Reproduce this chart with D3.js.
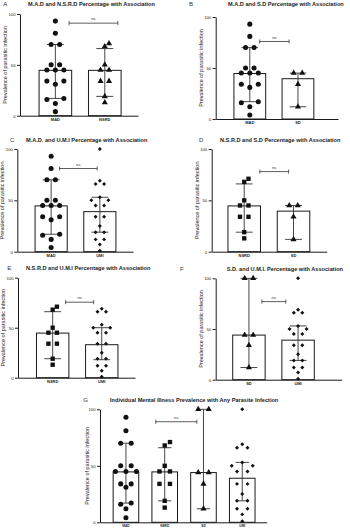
<!DOCTYPE html>
<html>
<head>
<meta charset="utf-8">
<script src="https://cdn.jsdelivr.net/npm/d3@7"></script>
<style>
  body { margin: 0; background: #fff; }
  svg { display: block; font-family: "Liberation Sans", Arial, sans-serif; }
</style>
</head>
<body>
<script>
// values (prevalence of parasitic infection, %)
var categories = ["MAD", "NSRD", "SD", "UMI"];
var madValues = [93, 81, 70, 70, 50, 50, 45, 45, 45, 34, 34, 31, 17, 16, 12, 4];
var nsrdValues = [71, 68, 50, 45, 45, 34, 34, 19, 13];
var sdValuesBD = [45, 45, 34, 12];
var sdValuesFG = [100, 100, 44, 44, 34, 12];
var umiValues = [100, 69, 66, 66, 53, 50, 50, 45, 45, 34, 34, 25, 19, 19, 12, 12, 7, 1];
var umiValuesE = [69, 66, 66, 53, 50, 50, 45, 45, 34, 34, 25, 19, 19, 12, 12, 7, 1];

// bar = median, whiskers = interquartile range : [q1, median, q3]
var madStats = [17, 44.6, 70];
var nsrdStats = [19, 44.6, 66];
var sdStatsBD = [12, 39.5, 45];
var sdStatsFG = [12, 44, 100];
var umiStats = [19, 39, 53];
var umiStatsE = [18, 33, 50];

var panelLetters = ["A", "B", "C", "D", "E", "F", "G"];
var panelTitles = [
  "M.A.D and N.S.R.D Percentage with Association",
  "M.A.D and S.D Percentage with Association",
  "M.A.D. and U.M.I  Percentage with Association",
  "N.S.R.D and S.D Percentage with Association",
  "N.S.R.D and U.M.I Percentage with Association",
  "S.D. and U.M.I. Percentage with Association",
  "Individual Mental Illness Prevalence with Any Parasite Infection"
];
var yTickValues = [0, 50, 100];
var yLabel = "Prevalence of parasitic infection";
var testLabel = "ns";

// layout of the seven panels
var panels = [
  { series: [["MAD", madValues, madStats, "circle"], ["NSRD", nsrdValues, nsrdStats, "triangle"]],
    x0: 20, x1: 138, top: 14, bottom: 115.7, po: 0.364, align: 0.53,
    title: [28, 6], letter: [3.3, 6], bracket: [0, 0.42, 1, 0.4, 91] },
  { series: [["MAD", madValues, madStats, "circle"], ["SD", sdValuesBD, sdStatsBD, "triangle"]],
    x0: 215.7, x1: 338, top: 17, bottom: 119, po: 0.44, align: 0.43,
    title: [228, 6], letter: [189, 6], bracket: [0, 0.31, 1, -0.28, 76] },
  { series: [["MAD", madValues, madStats, "circle"], ["UMI", umiValues, umiStats, "diamond"]],
    x0: 17.3, x1: 133, top: 149, bottom: 251.7, po: 0.358, align: 0.51,
    title: [26, 141.7], letter: [10, 141.7], bracket: [0, 0.26, 1, -0.085, 81] },
  { series: [["NSRD", nsrdValues, nsrdStats, "square"], ["SD", sdValuesBD, sdStatsBD, "triangle"]],
    x0: 211.7, x1: 326.7, top: 149, bottom: 251.7, po: 0.337, align: 0.49,
    title: [220, 141.7], letter: [199, 141.7], bracket: [0, 0.48, 1, -0.15, 78] },
  { series: [["NSRD", nsrdValues, nsrdStats, "square"], ["UMI", umiValuesE, umiStatsE, "diamond"]],
    x0: 18, x1: 135, top: 277.7, bottom: 377.7, po: 0.362, align: 0.52,
    title: [26, 270], letter: [7.3, 270], bracket: [0, 0.4, 1, -0.25, 75.5] },
  { series: [["SD", sdValuesFG, sdStatsFG, "triangle"], ["UMI", umiValues, umiStats, "diamond"]],
    x0: 215.7, x1: 341.7, top: 278.3, bottom: 379.7, po: 0.452, align: 0.383,
    title: [226.7, 271], letter: [180, 271], bracket: [0, 0.4, 1, -0.38, 77] },
  { series: [["MAD", madValues, madStats, "circle"], ["NSRD", nsrdValues, nsrdStats, "square"],
             ["SD", sdValuesFG, sdStatsFG, "triangle"], ["UMI", umiValues, umiStats, "diamond"]],
    x0: 100, x1: 266.7, top: 409.3, bottom: 522.3, po: 0.32, align: 0.53, spacing: 10.5,
    labelOff: 11, catSize: 3.2,
    title: [110, 402], letter: [83.3, 402], bracket: [1, -0.35, 2, -0.26, 89] }
];

var symbols = {
  circle: [d3.symbolCircle, 20],
  square: [d3.symbolSquare, 19],
  triangle: [d3.symbolTriangle, 16],
  diamond: [d3.symbolDiamond2 || d3.symbolDiamond, 10]
};
var ink = "#1a1a1a";

var svg = d3.select("body").append("svg")
    .attr("width", 350)
    .attr("height", 529);

// spread points sideways like a scatter-dot plot: equal values sit side by side,
// groups widen until they clear the points already placed
function swarm(values, y, spacing) {
  var minDist = 6;
  var pts = values.map(function(v) { return { v: v, py: y(v), dx: 0 }; })
    .sort(function(a, b) { return a.v - b.v; });
  var groups = [];
  pts.forEach(function(p) {
    var g = groups[groups.length - 1];
    if (g && Math.abs(p.v - g[0].v) < 1.5) g.push(p); else groups.push([p]);
  });
  var placed = [];
  function clearance(p, dx) {
    var m = Infinity;
    placed.forEach(function(q) { m = Math.min(m, Math.hypot(q.dx - dx, q.py - p.py)); });
    return m;
  }
  groups.forEach(function(g) {
    var n = g.length, options = [];
    if (n === 1) options = [[0], [spacing / 2], [-spacing / 2]];
    else for (var k = 0; k < 4; k++) {
      var gap = spacing * (1 + k / (n - 1));
      options.push(g.map(function(p, i) { return (i - (n - 1) / 2) * gap; }));
    }
    var best = options[0], bestScore = -1;
    for (var o = 0; o < options.length; o++) {
      var score = d3.min(g, function(p, i) { return clearance(p, options[o][i]); });
      if (score >= minDist) { best = options[o]; break; }
      if (score > bestScore) { bestScore = score; best = options[o]; }
    }
    g.forEach(function(p, i) { p.dx = best[i]; placed.push(p); });
  });
  return pts;
}

panels.forEach(function(p, pi) {
  var g = svg.append("g");
  var cats = p.series.map(function(s) { return s[0]; });
  var x = d3.scaleBand().domain(cats).range([p.x0, p.x1])
      .paddingInner(0.34).paddingOuter(p.po).align(p.align);
  var y = d3.scaleLinear().domain([0, 100]).range([p.bottom, p.top]);
  var bw = x.bandwidth();
  var spacing = p.spacing || 8.5;

  // bars
  p.series.forEach(function(s) {
    g.append("rect")
      .attr("x", x(s[0]))
      .attr("y", y(s[2][1]))
      .attr("width", bw)
      .attr("height", y(0) - y(s[2][1]))
      .attr("fill", "#fff")
      .attr("stroke", ink)
      .attr("stroke-width", 1);
  });

  // interquartile whiskers
  p.series.forEach(function(s) {
    var cx = x(s[0]) + bw / 2, cap = bw * 0.26;
    var eb = g.append("g").attr("stroke", "#333").attr("stroke-width", 0.9);
    eb.append("line").attr("x1", cx).attr("x2", cx).attr("y1", y(s[2][0])).attr("y2", y(s[2][2]));
    [s[2][0], s[2][2]].forEach(function(v) {
      eb.append("line").attr("x1", cx - cap).attr("x2", cx + cap).attr("y1", y(v)).attr("y2", y(v));
    });
  });

  // individual points
  p.series.forEach(function(s) {
    var cx = x(s[0]) + bw / 2;
    var sym = symbols[s[3]];
    g.append("g").selectAll("path")
      .data(swarm(s[1], y, spacing))
      .enter().append("path")
      .attr("transform", function(d) { return "translate(" + (cx + d.dx) + "," + d.py + ")"; })
      .attr("d", d3.symbol().type(sym[0]).size(sym[1]))
      .attr("fill", "#111");
  });

  // axes
  var ya = g.append("g")
      .attr("transform", "translate(" + p.x0 + ",0)")
      .call(d3.axisLeft(y).tickValues(yTickValues).tickSize(3).tickSizeOuter(0).tickPadding(1.5));
  var xa = g.append("g")
      .attr("transform", "translate(0," + p.bottom + ")")
      .call(d3.axisBottom(x).tickSize(0).tickPadding(2.5));
  [ya, xa].forEach(function(a) {
    a.selectAll("path, line").attr("stroke", ink).attr("stroke-width", 1);
    a.attr("font-family", null);
  });
  ya.selectAll("text").attr("font-size", 4.2).attr("fill", "#222");
  xa.selectAll("text").attr("font-size", p.catSize || 4).attr("font-weight", "bold").attr("fill", "#222");

  g.append("text")
    .attr("transform", "translate(" + (p.x0 - (p.labelOff || 13)) + "," + ((p.top + p.bottom) / 2) + ") rotate(-90)")
    .attr("text-anchor", "middle")
    .attr("font-size", 5.5)
    .attr("fill", "#222")
    .text(yLabel);

  // significance bracket
  var b = p.bracket;
  var xa1 = x(cats[b[0]]) + bw / 2 + b[1] * bw, xa2 = x(cats[b[2]]) + bw / 2 + b[3] * bw;
  var by = y(b[4]);
  var br = g.append("g").attr("stroke", "#333").attr("stroke-width", 0.8);
  br.append("line").attr("x1", xa1).attr("x2", xa2).attr("y1", by).attr("y2", by);
  [xa1, xa2].forEach(function(xx) {
    br.append("line").attr("x1", xx).attr("x2", xx).attr("y1", by - 2).attr("y2", by + 2);
  });
  g.append("text")
    .attr("x", (xa1 + xa2) / 2).attr("y", by - 2.8)
    .attr("text-anchor", "middle")
    .attr("font-size", 4.2)
    .attr("fill", "#333")
    .text(testLabel);

  // titles
  g.append("text")
    .attr("x", p.title[0]).attr("y", p.title[1])
    .attr("font-size", 5.6)
    .attr("font-weight", "bold")
    .attr("fill", "#222")
    .text(panelTitles[pi]);
  g.append("text")
    .attr("x", p.letter[0]).attr("y", p.letter[1])
    .attr("font-size", 6)
    .attr("fill", "#333")
    .text(panelLetters[pi]);
});
</script>
</body>
</html>
